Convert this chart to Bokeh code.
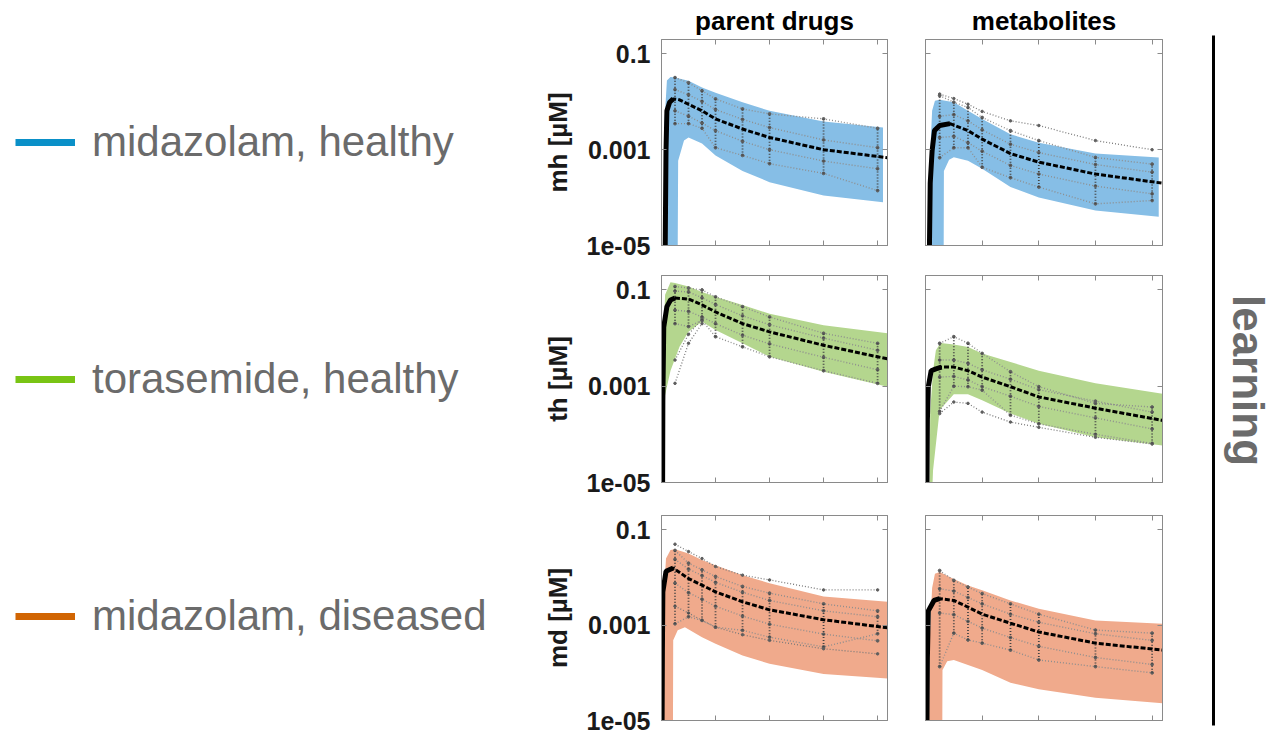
import numpy as np
from bokeh.plotting import figure
from bokeh.layouts import row, column
from bokeh.models import Range1d, FixedTicker, LinearAxis, LogAxis, Legend, LegendItem
from bokeh.core.properties import value
from bokeh.embed import file_html
from bokeh.resources import INLINE

FONT = "Liberation Sans"

# ---------------- shared labels / ticks ----------------
T_SAMPLE = [1.5, 3, 4.5, 6, 9, 12, 18, 24]
X_TICKS = [6, 12, 18, 24]
Y_TICKS = [1e-05, 0.001, 0.1]
Y_TICK_LABELS = ["1e-05", "0.001", "0.1"]
X_MAX = 25.1
Y_MIN, Y_MAX = 1e-05, 0.2

GROUPS = ["midazolam, healthy", "torasemide, healthy", "midazolam, diseased"]
GROUP_COLORS = ["#0a90c8", "#79c414", "#d16503"]
BAND_COLORS = ["#86bee6", "#b4d68e", "#f0aa8c"]
ROW_LABELS = ["mh [µM]", "th [µM]", "md [µM]"]
COL_TITLES = ["parent drugs", "metabolites"]
SIDE_LABEL = "learning"

# ---------------- midazolam healthy, parent ----------------
MHP_UP_T = [0.2, 0.3, 0.6, 1.0, 1.5, 3, 4.5, 6, 9, 12, 18, 24.6]
MHP_UP = [1e-7, 0.003, 0.028, 0.033, 0.032, 0.0275, 0.02, 0.0155, 0.0098, 0.0065, 0.0039, 0.0029]
MHP_LO_T = [0.2, 1.75, 1.85, 2.5, 3, 4.5, 6, 9, 12, 18, 24.6]
MHP_LO = [1e-7, 1e-7, 0.00059, 0.00155, 0.0018, 0.00135, 0.00076, 0.00036, 0.00021, 0.00011, 0.00008]
MHP_MED_T = [0.4, 0.5, 0.6, 0.9, 1.3, 2, 3, 4.5, 6, 9, 12, 18, 25.1]
MHP_MED = [5e-6, 0.00095, 0.0065, 0.0098, 0.0115, 0.011, 0.0089, 0.0065, 0.0044, 0.0027, 0.0018, 0.001, 0.00068]
MHP_OBS_HI = [0.032, 0.025, 0.017, 0.0115, 0.0071, 0.0056, 0.0044, 0.0028]
MHP_OBS_Q1 = [0.018, 0.014, 0.0102, 0.0069, 0.0043, 0.0029, 0.0016, 0.0011]
MHP_OBS_Q3 = [0.0065, 0.005, 0.0036, 0.0025, 0.0015, 0.001, 0.00058, 0.0004]
MHP_OBS_LO = [0.0035, 0.0035, 0.0028, 0.0011, 0.00076, 0.00051, 0.00032, 0.00014]

# ---------------- midazolam healthy, metabolite ----------------
MHM_UP_T = [0.35, 0.45, 0.7, 1.0, 1.5, 3, 4.5, 6, 9, 12, 18, 24.7]
MHM_UP = [1e-7, 0.0005, 0.0065, 0.0105, 0.011, 0.0098, 0.0065, 0.0044, 0.0021, 0.0014, 0.00083, 0.00069]
MHM_LO_T = [0.35, 1.9, 1.95, 2.5, 3, 4.5, 6, 9, 12, 18, 24.7]
MHM_LO = [1e-7, 1e-7, 0.00036, 0.00062, 0.0007, 0.00059, 0.0004, 0.000166, 0.0001, 0.000054, 0.00004]
MHM_MED_T = [0.4, 0.5, 0.7, 0.95, 1.5, 2.6, 4.5, 6, 9, 12, 18, 25.1]
MHM_MED = [5e-6, 0.0002, 0.00095, 0.0025, 0.0032, 0.0035, 0.0025, 0.00166, 0.00083, 0.00055, 0.00031, 0.0002]
MHM_OBS_HI = [0.0135, 0.0098, 0.0076, 0.0047, 0.0025, 0.00155, 0.00069, 0.0005]
MHM_OBS_Q1 = [0.005, 0.0054, 0.004, 0.0026, 0.0013, 0.00087, 0.00049, 0.00034]
MHM_OBS_Q3 = [0.0018, 0.0019, 0.0014, 0.00093, 0.00047, 0.00031, 0.000174, 0.00012]
MHM_OBS_LO = [0.00068, 0.0011, 0.0011, 0.00043, 0.00026, 0.000166, 0.000074, 0.000087]
MHM_OUT = [0.0145, 0.0117, 0.0089, 0.0063, 0.004, 0.0032, 0.00155, 0.001]

# ---------------- torasemide healthy, parent ----------------
THP_UP_T = [0.05, 0.1, 0.4, 1.0, 1.5, 3, 4.5, 6, 9, 12, 18, 25.1]
THP_UP = [1e-7, 0.003, 0.08, 0.145, 0.14, 0.118, 0.091, 0.072, 0.049, 0.032, 0.0186, 0.0126]
THP_LO_T = [0.05, 0.3, 0.35, 1.0, 2.0, 3.0, 4.5, 6, 9, 12, 18, 25.1]
THP_LO = [1e-7, 1e-7, 0.0006, 0.0021, 0.0066, 0.0135, 0.022, 0.0148, 0.0078, 0.0041, 0.002, 0.00098]
THP_MED_T = [0.12, 0.15, 0.25, 0.6, 1.0, 1.5, 3, 4.5, 6, 9, 12, 18, 25.1]
THP_MED = [5e-6, 0.0005, 0.017, 0.045, 0.062, 0.068, 0.065, 0.049, 0.035, 0.02, 0.0135, 0.0071, 0.0037]
THP_OBS_HI = [0.118, 0.11, 0.1, 0.072, 0.045, 0.0275, 0.0126, 0.0078]
THP_OBS_Q1 = [0.095, 0.091, 0.069, 0.05, 0.029, 0.019, 0.01, 0.0056]
THP_OBS_Q3 = [0.038, 0.036, 0.0275, 0.02, 0.0115, 0.0076, 0.004, 0.0022]
THP_OBS_LO = [0.02, 0.0174, 0.0234, 0.0107, 0.0066, 0.0041, 0.0021, 0.00115]
THP_OUT_T = [1.5, 3, 4.5]
THP_OUT_1 = [0.00115, 0.0078, 0.02]
THP_OUT_2 = [0.0035, 0.012, 0.025]

# ---------------- torasemide healthy, metabolite ----------------
THM_UP_T = [0.35, 0.5, 0.8, 1.1, 1.6, 3, 4.5, 6, 9, 12, 18, 25.1]
THM_UP = [1e-7, 0.0003, 0.0021, 0.0056, 0.0079, 0.0074, 0.0065, 0.0048, 0.0032, 0.0021, 0.00115, 0.0007]
THM_LO_T = [0.35, 0.8, 1.5, 3, 4.5, 6, 9, 12, 18, 25.1]
THM_LO = [1e-7, 1.8e-5, 0.00032, 0.00068, 0.00068, 0.00051, 0.00027, 0.000166, 0.000087, 0.000059]
THM_MED_T = [0.15, 0.2, 0.3, 0.6, 1.1, 1.7, 3, 4.5, 6, 9, 12, 18, 25.1]
THM_MED = [5e-6, 0.0002, 0.00098, 0.0021, 0.0023, 0.0025, 0.0025, 0.0021, 0.00155, 0.00098, 0.0006, 0.00035, 0.000195]
THM_OBS_HI = [0.0078, 0.0107, 0.0078, 0.0048, 0.002, 0.00098, 0.00044, 0.00037]
THM_OBS_Q1 = [0.0035, 0.0035, 0.003, 0.0022, 0.0014, 0.00085, 0.00049, 0.00029]
THM_OBS_Q3 = [0.00155, 0.0016, 0.00135, 0.00098, 0.00062, 0.00038, 0.00022, 0.00013]
THM_OBS_LO = [0.0003, 0.001, 0.00098, 0.00083, 0.00025, 0.000166, 0.0001, 0.000065]
THM_OUT = [0.00027, 0.00047, 0.00044, 0.00029, 0.00018, 0.00014, 0.000087, 0.000063]

# ---------------- midazolam diseased, parent ----------------
MDP_UP_T = [0.05, 0.15, 0.5, 1.0, 1.5, 3, 4.5, 6, 9, 12, 18, 25.1]
MDP_UP = [1e-7, 0.002, 0.025, 0.038, 0.039, 0.032, 0.0234, 0.018, 0.0112, 0.0076, 0.004, 0.0031]
MDP_LO_T = [0.05, 1.25, 1.3, 1.8, 2.6, 4.5, 6, 9, 12, 18, 25.1]
MDP_LO = [1e-7, 1e-7, 0.00048, 0.00078, 0.00091, 0.00056, 0.00041, 0.00023, 0.000155, 0.000095, 0.000076]
MDP_MED_T = [0.06, 0.1, 0.15, 0.5, 1.3, 3, 4.5, 6, 9, 12, 18, 25.1]
MDP_MED = [5e-6, 0.0003, 0.005, 0.0135, 0.0158, 0.0095, 0.0069, 0.005, 0.0031, 0.0021, 0.0013, 0.00088]
MDP_OBS_HI = [0.037, 0.02, 0.0145, 0.0105, 0.0065, 0.0047, 0.0028, 0.002]
MDP_OBS_Q1 = [0.024, 0.015, 0.011, 0.0079, 0.0049, 0.0033, 0.002, 0.0015]
MDP_OBS_Q3 = [0.0076, 0.0048, 0.0035, 0.0025, 0.00155, 0.00105, 0.00065, 0.00047]
MDP_OBS_LO = [0.00107, 0.0015, 0.00126, 0.00091, 0.00078, 0.00056, 0.00035, 0.00066]
MDP_OUT_1 = [0.05, 0.035, 0.025, 0.017, 0.0112, 0.0089, 0.0055, 0.0055]
MDP_OUT_2 = [0.0025, 0.0018, 0.00126, 0.00091, 0.00063, 0.00048, 0.00032, 0.00025]

# ---------------- midazolam diseased, metabolite ----------------
MDM_UP_T = [0.3, 0.45, 0.7, 1.0, 1.5, 3, 4.5, 6, 9, 12, 18, 25.1]
MDM_UP = [1e-7, 0.0005, 0.006, 0.012, 0.013, 0.0093, 0.0068, 0.0054, 0.0033, 0.0022, 0.00126, 0.00107]
MDM_LO_T = [0.3, 1.75, 1.8, 2.3, 3, 6, 9, 12, 18, 25.1]
MDM_LO = [1e-7, 1e-7, 0.000115, 0.000174, 0.000186, 0.000115, 0.000062, 0.000045, 0.00003, 0.000023]
MDM_MED_T = [0.15, 0.2, 0.3, 0.9, 1.5, 3, 4.5, 6, 9, 12, 18, 25.1]
MDM_MED = [5e-6, 0.0002, 0.002, 0.0033, 0.0036, 0.0033, 0.0024, 0.0017, 0.0011, 0.00072, 0.00042, 0.0003]
MDM_OBS_HI = [0.014, 0.0087, 0.0063, 0.0046, 0.0028, 0.0017, 0.00079, 0.00068]
MDM_OBS_Q1 = [0.0058, 0.0052, 0.0038, 0.0028, 0.0017, 0.00115, 0.00066, 0.00048]
MDM_OBS_Q3 = [0.0018, 0.00166, 0.0012, 0.00087, 0.00055, 0.00036, 0.00021, 0.00015]
MDM_OBS_LO = [0.000135, 0.00068, 0.00049, 0.00042, 0.0003, 0.000186, 0.000135, 0.0001]

AX_COLOR = "#8a8a8a"
TXT_GRAY = "#6b6b6b"

ROW_TOP = [39, 15, 17]
ROW_FRAME = [206, 207, 205]
ROW_BOTTOM = [15, 16, 13]


def style_axis(ax, show_labels):
    ax.axis_line_color = AX_COLOR
    ax.major_tick_line_color = AX_COLOR
    ax.major_tick_in = 5
    ax.major_tick_out = 0
    ax.minor_tick_line_color = None
    if show_labels:
        ax.major_label_text_font = FONT
        ax.major_label_text_font_size = "25px"
        ax.major_label_text_font_style = "bold"
        ax.major_label_text_color = "#1a1a1a"
        ax.major_label_standoff = 11
    else:
        ax.major_label_text_font_size = "1px"
        ax.major_label_text_color = None
        ax.major_label_standoff = 0
        ax.axis_label = None
        ax.axis_label_text_font_size = "1px"
        ax.axis_label_standoff = 0


def make_panel(r, c, up_t, up, lo_t, lo, med_t, med, peak, obs, outs):
    top, fh, bottom = ROW_TOP[r], ROW_FRAME[r], ROW_BOTTOM[r]
    left = 112 if c == 0 else 19
    right = 19 if c == 0 else 20
    fw = 236 if c == 0 else 237
    kw = dict(width=left + fw + right, height=top + fh + bottom,
              x_range=Range1d(0, X_MAX), y_range=Range1d(Y_MIN, Y_MAX),
              y_axis_type="log", toolbar_location=None, output_backend="svg",
              min_border_left=left, min_border_right=right,
              min_border_top=top, min_border_bottom=bottom)
    if r == 0:
        kw["title"] = COL_TITLES[c]
    p = figure(**kw)
    p.xgrid.visible = False
    p.ygrid.visible = False
    p.outline_line_color = AX_COLOR
    p.background_fill_color = "white"
    p.border_fill_color = "white"
    if r == 0:
        p.title.text_font = FONT
        p.title.text_font_size = "26px"
        p.title.text_font_style = "bold"
        p.title.text_color = "black"
        p.title.align = "center"
        p.title.standoff = 7

    xb = p.xaxis[0]
    xb.ticker = FixedTicker(ticks=X_TICKS)
    style_axis(xb, False)
    yl = p.yaxis[0]
    yl.ticker = FixedTicker(ticks=Y_TICKS)
    if c == 0:
        style_axis(yl, True)
        yl.major_label_overrides = dict(zip(Y_TICKS, Y_TICK_LABELS))
        yl.axis_label = ROW_LABELS[r]
        yl.axis_label_text_font = FONT
        yl.axis_label_text_font_size = "26px"
        yl.axis_label_text_font_style = "bold"
        yl.axis_label_text_color = "#1a1a1a"
        yl.axis_label_standoff = 11
    else:
        style_axis(yl, False)
    xt = LinearAxis(ticker=FixedTicker(ticks=X_TICKS))
    style_axis(xt, False)
    p.add_layout(xt, "above")
    yr = LogAxis(ticker=FixedTicker(ticks=Y_TICKS))
    style_axis(yr, False)
    p.add_layout(yr, "right")

    # prediction band
    band_x = list(up_t) + list(reversed(lo_t))
    band_y = list(up) + list(reversed(lo))
    p.patch(band_x, band_y, fill_color=BAND_COLORS[r], line_color=None)

    # individual observations
    for vals in obs:
        p.line(T_SAMPLE, vals, line_color="#8e8e8e", line_width=1.4, line_dash="1 2")
        p.scatter(T_SAMPLE, vals, size=2.8, marker="circle", color="#5e5e5e")
    for ot, ov in outs:
        p.line(ot, ov, line_color="#7a7a7a", line_width=1.3, line_dash="1 2")
        p.scatter(ot, ov, size=2.5, marker="circle", color="#5e5e5e")
    p.segment(x0=T_SAMPLE, y0=obs[-1], x1=T_SAMPLE, y1=obs[0],
              line_color="#444444", line_width=1.8, line_dash="1 2")

    # model median
    p.line(med_t, med, line_color="black", line_width=3, line_dash="5 2")
    p.line(med_t[:peak + 1], med[:peak + 1], line_color="black", line_width=5)
    return p


pA = make_panel(0, 0, MHP_UP_T, MHP_UP, MHP_LO_T, MHP_LO, MHP_MED_T, MHP_MED, 4,
                [MHP_OBS_HI, MHP_OBS_Q1, MHP_OBS_Q3, MHP_OBS_LO], [])
pB = make_panel(0, 1, MHM_UP_T, MHM_UP, MHM_LO_T, MHM_LO, MHM_MED_T, MHM_MED, 5,
                [MHM_OBS_HI, MHM_OBS_Q1, MHM_OBS_Q3, MHM_OBS_LO], [(T_SAMPLE, MHM_OUT)])
pC = make_panel(1, 0, THP_UP_T, THP_UP, THP_LO_T, THP_LO, THP_MED_T, THP_MED, 5,
                [THP_OBS_HI, THP_OBS_Q1, THP_OBS_Q3, THP_OBS_LO],
                [(THP_OUT_T, THP_OUT_1), (THP_OUT_T, THP_OUT_2)])
pD = make_panel(1, 1, THM_UP_T, THM_UP, THM_LO_T, THM_LO, THM_MED_T, THM_MED, 5,
                [THM_OBS_HI, THM_OBS_Q1, THM_OBS_Q3, THM_OBS_LO], [(T_SAMPLE, THM_OUT)])
pE = make_panel(2, 0, MDP_UP_T, MDP_UP, MDP_LO_T, MDP_LO, MDP_MED_T, MDP_MED, 4,
                [MDP_OBS_HI, MDP_OBS_Q1, MDP_OBS_Q3, MDP_OBS_LO],
                [(T_SAMPLE, MDP_OUT_1), (T_SAMPLE, MDP_OUT_2)])
pF = make_panel(2, 1, MDM_UP_T, MDM_UP, MDM_LO_T, MDM_LO, MDM_MED_T, MDM_MED, 4,
                [MDM_OBS_HI, MDM_OBS_Q1, MDM_OBS_Q3, MDM_OBS_LO], [])

TOTAL_H = sum(ROW_TOP) + sum(ROW_FRAME) + sum(ROW_BOTTOM)

# ---------------- legend figure (left) ----------------
lf = figure(width=539, height=TOTAL_H, x_range=Range1d(0, 1), y_range=Range1d(0, 1),
            toolbar_location=None, output_backend="svg", min_border=0,
            x_axis_location=None, y_axis_location=None)
lf.grid.visible = False
lf.outline_line_color = None
items = []
for g, col in zip(GROUPS, GROUP_COLORS):
    # legend-only renderer: a single undefined point, nothing drawn in the frame
    rr = lf.line(x=np.array([np.nan]), y=np.array([np.nan]), line_color=col, line_width=7)
    items.append(LegendItem(label=value(g), renderers=[rr]))
leg = Legend(items=items, location=(15, 84), orientation="vertical",
             label_text_font=FONT, label_text_font_size="42px", label_text_color=TXT_GRAY,
             glyph_width=60, glyph_height=50, label_height=50, label_standoff=17,
             spacing=187, padding=0, margin=0, border_line_color=None,
             background_fill_alpha=0)
lf.add_layout(leg)

# ---------------- side label figure (right) ----------------
rf = figure(width=93, height=TOTAL_H, x_range=Range1d(0, 1), y_range=Range1d(0, 1),
            toolbar_location=None, output_backend="svg",
            min_border_left=0, min_border_right=0, min_border_top=35, min_border_bottom=8,
            x_axis_location=None, y_axis_location="right")
rf.grid.visible = False
rf.outline_line_color = None
ax = rf.yaxis[0]
ax.ticker = FixedTicker(ticks=[0.5])
ax.axis_line_color = "black"
ax.axis_line_width = 3
ax.major_tick_line_color = None
ax.minor_tick_line_color = None
ax.major_label_text_font_size = "1px"
ax.major_label_text_color = None
ax.major_label_standoff = 0
ax.axis_label = SIDE_LABEL
ax.axis_label_text_font = FONT
ax.axis_label_text_font_size = "44px"
ax.axis_label_text_font_style = "bold"
ax.axis_label_text_color = TXT_GRAY
ax.axis_label_standoff = 4

grid = column(row(pA, pB), row(pC, pD), row(pE, pF))
layout = row(lf, grid, rf)

open("out.html", "w").write(file_html(layout, INLINE))
